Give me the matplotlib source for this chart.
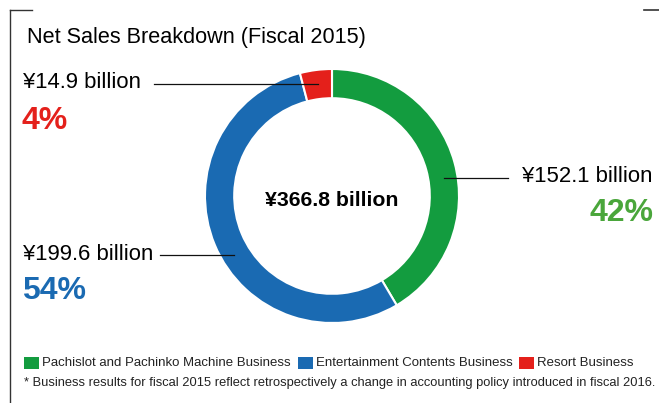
import matplotlib.pyplot as plt
from matplotlib.patches import Rectangle

plt.rcParams['font.family'] = ['Liberation Sans', 'DejaVu Sans']

# net sales by segment (billion yen)
segments = ["Pachislot and Pachinko Machine Business",
            "Entertainment Contents Business",
            "Resort Business"]
sales = [152.1, 199.6, 14.9]
shares = [42, 54, 4]
total = 366.8
ring_colors = ["#139c3f", "#1a6ab2", "#e4201b"]
pct_colors = ["#4aa63b", "#1a6ab2", "#e4201b"]

W, H = 659, 403
fig = plt.figure(figsize=(W / 100, H / 100), dpi=100)

# donut
cx, cy, r = 332, 196, 127
pax = fig.add_axes([(cx - r) / W, (H - cy - r) / H, 2 * r / W, 2 * r / H])
pax.pie(sales, colors=ring_colors, startangle=90, counterclock=False,
        radius=1, wedgeprops=dict(width=0.23, edgecolor="white", linewidth=1.5))
pax.set_xlim(-1, 1)
pax.set_ylim(-1, 1)
pax.set_aspect("equal")
pax.axis("off")

# overlay in pixel coordinates (y down), on top of the donut
ax = fig.add_axes([0, 0, 1, 1], zorder=5)
ax.set_xlim(0, W)
ax.set_ylim(H, 0)
ax.patch.set_alpha(0)
ax.axis("off")

# frame corners
ax.plot([10, 10], [H, 10], color="#333333", lw=1)
ax.plot([10, 32], [10, 10], color="#333333", lw=1)
ax.plot([644, W], [10, 10], color="#333333", lw=1.2)

ax.text(27, 37, "Net Sales Breakdown (Fiscal 2015)", fontsize=15.6, va="center", ha="left")

ax.text(cx, 201, f"¥{total} billion", fontsize=15.3, fontweight="bold",
        ha="center", va="center")

# callouts: value line + percentage
lab = "#111111"
lsize, psize = 15.9, 23
# green (right)
ax.plot([444, 508], [178, 178], color=lab, lw=0.9)
ax.text(652, 177, f"¥{sales[0]} billion", fontsize=lsize, ha="right", va="center")
ax.text(654, 213, f"{shares[0]}%", fontsize=psize, fontweight="bold",
        color=pct_colors[0], ha="right", va="center")
# blue (left)
ax.plot([160, 234], [255, 255], color=lab, lw=0.9)
ax.text(23, 254, f"¥{sales[1]} billion", fontsize=lsize, ha="left", va="center")
ax.text(22, 291, f"{shares[1]}%", fontsize=psize, fontweight="bold",
        color=pct_colors[1], ha="left", va="center")
# red (top left)
ax.plot([154, 318], [84, 84], color=lab, lw=0.9)
ax.text(23, 83, f"¥{sales[2]} billion", fontsize=lsize, ha="left", va="center")
ax.text(22, 121, f"{shares[2]}%", fontsize=psize, fontweight="bold",
        color=pct_colors[2], ha="left", va="center")

# legend row
fig.canvas.draw()
renderer = fig.canvas.get_renderer()
x = 24
for name, col in zip(segments, ring_colors):
    ax.add_patch(Rectangle((x, 357), 15, 12, color=col, lw=0))
    t = ax.text(x + 18, 363, name, fontsize=9.55, va="center", ha="left", color="#222222")
    bb = t.get_window_extent(renderer)
    x = bb.x1 + 7

ax.text(24, 383, "* Business results for fiscal 2015 reflect retrospectively a change in "
        "accounting policy introduced in fiscal 2016.",
        fontsize=9.3, va="center", ha="left", color="#222222")

fig.savefig("out.png", dpi=100)
